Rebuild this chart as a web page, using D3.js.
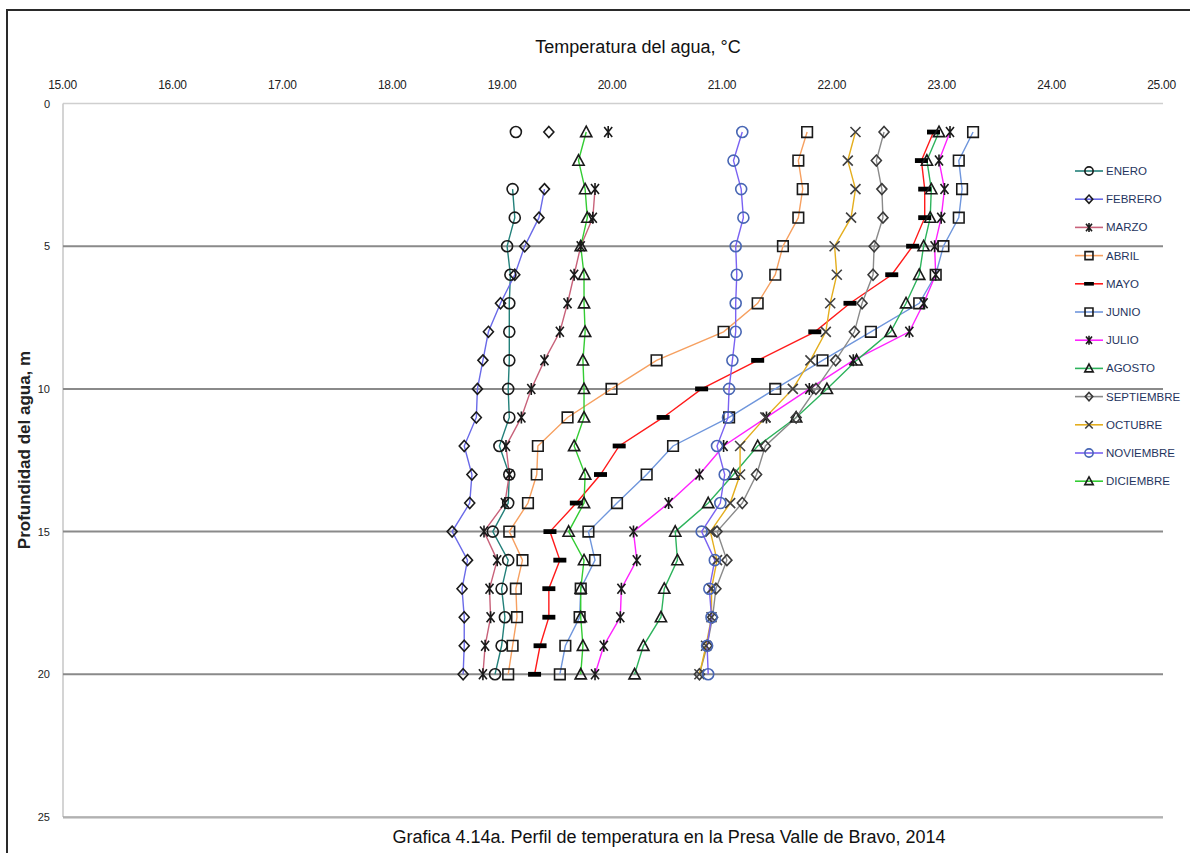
<!DOCTYPE html>
<html>
<head>
<meta charset="utf-8">
<script src="https://cdn.jsdelivr.net/npm/d3@7"></script>
<style>
  html, body { margin: 0; padding: 0; background: #fff; }
  svg { display: block; font-family: "Liberation Sans", Arial, sans-serif; }
</style>
</head>
<body>
<svg id="chart" width="1190" height="853"></svg>
<script>
// Profundidad de muestreo (m)
const depths = [1, 2, 3, 4, 5, 6, 7, 8, 9, 10, 11, 12, 13, 14, 15, 16, 17, 18, 19, 20];

// Temperatura del agua (°C) por mes, una lectura por profundidad
const enero      = [19.13, null, 19.10, 19.12, 19.05, 19.08, 19.07, 19.07, 19.07, 19.06, 19.07, 18.98, 19.07, 19.06, 18.92, 19.06, 19.00, 19.03, 19.00, 18.94];
const febrero    = [19.43, null, 19.39, 19.34, 19.21, 19.12, 18.99, 18.88, 18.83, 18.78, 18.77, 18.66, 18.73, 18.71, 18.55, 18.69, 18.64, 18.66, 18.66, 18.65];
const marzo      = [19.97, null, 19.85, 19.83, 19.72, 19.66, 19.60, 19.53, 19.39, 19.27, 19.18, 19.04, 19.07, 19.03, 18.84, 18.96, 18.89, 18.90, 18.85, 18.83];
const abril      = [21.78, 21.70, 21.74, 21.70, 21.56, 21.49, 21.33, 21.02, 20.41, 20.00, 19.60, 19.33, 19.32, 19.24, 19.07, 19.19, 19.13, 19.14, 19.10, 19.06];
const mayo       = [22.93, 22.82, 22.85, 22.85, 22.74, 22.55, 22.17, 21.85, 21.33, 20.82, 20.47, 20.07, 19.90, 19.68, 19.44, 19.53, 19.43, 19.43, 19.35, 19.30];
const junio      = [23.29, 23.16, 23.19, 23.16, 23.02, 22.95, 22.80, 22.36, 21.92, 21.49, 21.07, 20.56, 20.32, 20.05, 19.79, 19.85, 19.72, 19.71, 19.58, 19.53];
const julio      = [23.08, 22.98, 23.03, 23.00, 22.94, 22.95, 22.84, 22.71, 22.20, 21.80, 21.41, 21.02, 20.80, 20.52, 20.20, 20.23, 20.09, 20.08, 19.93, 19.85];
const agosto     = [22.98, 22.87, 22.91, 22.90, 22.84, 22.80, 22.68, 22.54, 22.23, 21.96, 21.68, 21.33, 21.11, 20.88, 20.58, 20.60, 20.48, 20.45, 20.29, 20.21];
const septiembre = [22.48, 22.41, 22.46, 22.47, 22.39, 22.38, 22.28, 22.21, 22.04, 21.86, 21.68, 21.40, 21.32, 21.19, 20.96, 21.05, 20.95, 20.92, 20.87, 20.80];
const octubre    = [22.22, 22.15, 22.22, 22.18, 22.03, 22.05, 21.99, 21.95, 21.81, 21.65, 21.40, 21.17, 21.17, 21.08, 20.90, 20.96, 20.91, 20.91, 20.86, 20.80];
const noviembre  = [21.19, 21.11, 21.18, 21.20, 21.13, 21.14, 21.13, 21.13, 21.10, 21.07, 21.06, 20.96, 21.03, 20.99, 20.82, 20.94, 20.89, 20.91, 20.87, 20.88];
const diciembre  = [19.77, 19.70, 19.76, 19.78, 19.72, 19.75, 19.75, 19.76, 19.74, 19.75, 19.75, 19.66, 19.76, 19.75, 19.61, 19.75, 19.72, 19.72, 19.74, 19.72];

const months = ["ENERO", "FEBRERO", "MARZO", "ABRIL", "MAYO", "JUNIO", "JULIO", "AGOSTO", "SEPTIEMBRE", "OCTUBRE", "NOVIEMBRE", "DICIEMBRE"];
const tempTicks = [15, 16, 17, 18, 19, 20, 21, 22, 23, 24, 25];
const depthTicks = [0, 5, 10, 15, 20, 25];

const titleTop = "Temperatura del agua, °C";
const titleBottom = "Grafica 4.14a. Perfil de temperatura en la Presa Valle  de Bravo, 2014";
const titleY = "Profundidad del agua, m";

// Estilo de cada serie: color de línea, tipo de marcador y color del marcador
const styles = [
  { line: "#23807a", marker: "circle",   mcolor: "#1a1a1a" },
  { line: "#6a6ae8", marker: "diamond",  mcolor: "#1a1a1a" },
  { line: "#c8627a", marker: "star",     mcolor: "#1a1a1a" },
  { line: "#f6a060", marker: "square",   mcolor: "#1a1a1a" },
  { line: "#ff1a1a", marker: "dash",     mcolor: "#000000" },
  { line: "#6f96dc", marker: "square",   mcolor: "#1a1a1a" },
  { line: "#ff22ff", marker: "star",     mcolor: "#1a1a1a" },
  { line: "#2db35c", marker: "triangle", mcolor: "#1a1a1a" },
  { line: "#8a8a8a", marker: "diamond",  mcolor: "#3a3a3a" },
  { line: "#e4ae1e", marker: "x",        mcolor: "#404040" },
  { line: "#7a62f2", marker: "circle",   mcolor: "#4866b4" },
  { line: "#33cc33", marker: "triangle", mcolor: "#1a1a1a" }
];

const seriesValues = [enero, febrero, marzo, abril, mayo, junio, julio, agosto, septiembre, octubre, noviembre, diciembre];
const series = months.map((name, i) => ({
  name,
  style: styles[i],
  points: depths.map((d, j) => ({ depth: d, temp: seriesValues[i][j] }))
}));

const svg = d3.select("#chart");

// Área de trazado
const plot = { left: 63, right: 1162, top: 103.5, bottom: 817 };
const x = d3.scaleLinear().domain([15, 25]).range([plot.left - 1, plot.right - 1]);
const y = d3.scaleLinear().domain([0, 25]).range([plot.top, plot.bottom]);

// Marco exterior
svg.append("rect")
  .attr("x", 7).attr("y", 10)
  .attr("width", 1200).attr("height", 900)
  .attr("fill", "none").attr("stroke", "#2a2a2a").attr("stroke-width", 2);

// Bordes del área de trazado
svg.append("line")
  .attr("x1", plot.left).attr("x2", plot.right + 1)
  .attr("y1", y(0)).attr("y2", y(0))
  .attr("stroke", "#cfcfcf").attr("stroke-width", 1.5);
svg.append("line")
  .attr("x1", plot.left).attr("x2", plot.left)
  .attr("y1", y(0)).attr("y2", y(25))
  .attr("stroke", "#c6c6c6").attr("stroke-width", 1.5);
svg.append("line")
  .attr("x1", plot.left).attr("x2", plot.right + 1)
  .attr("y1", y(25) + 1).attr("y2", y(25) + 1)
  .attr("stroke", "#d6d6d6").attr("stroke-width", 2);
svg.append("line")
  .attr("x1", plot.left).attr("x2", plot.right + 1)
  .attr("y1", y(25)).attr("y2", y(25))
  .attr("stroke", "#a4a4a4").attr("stroke-width", 1.5);

// Líneas de cuadrícula horizontales
svg.append("g")
  .selectAll("line")
  .data([5, 10, 15, 20])
  .join("line")
  .attr("x1", plot.left).attr("x2", plot.right + 1)
  .attr("y1", d => y(d)).attr("y2", d => y(d))
  .attr("stroke", "#8a8a8a").attr("stroke-width", 2);

// Eje de temperatura (arriba)
const xAxis = svg.append("g")
  .attr("transform", `translate(0, 92)`)
  .call(d3.axisTop(x).tickValues(tempTicks).tickSize(0).tickPadding(3).tickFormat(d3.format(".2f")));
xAxis.select(".domain").remove();
xAxis.selectAll("text")
  .attr("font-family", "'Liberation Sans Narrow', 'Liberation Sans', Arial, sans-serif")
  .attr("font-size", 12).attr("fill", "#222").attr("letter-spacing", -0.3);

// Eje de profundidad (izquierda)
const yAxis = svg.append("g")
  .attr("transform", `translate(${plot.left}, 0)`)
  .call(d3.axisLeft(y).tickValues(depthTicks).tickSize(0).tickPadding(13));
yAxis.select(".domain").remove();
yAxis.selectAll("text")
  .attr("font-family", "'Liberation Sans Narrow', 'Liberation Sans', Arial, sans-serif")
  .attr("font-size", 11).attr("fill", "#222");

// Títulos
svg.append("text")
  .attr("x", 638).attr("y", 53)
  .attr("text-anchor", "middle")
  .attr("font-size", 18).attr("fill", "#111")
  .text(titleTop);

svg.append("text")
  .attr("x", 669).attr("y", 843)
  .attr("text-anchor", "middle")
  .attr("font-size", 18).attr("fill", "#111")
  .text(titleBottom);

svg.append("text")
  .attr("transform", "translate(30, 450) rotate(-90)")
  .attr("text-anchor", "middle")
  .attr("font-size", 17).attr("font-weight", "bold").attr("fill", "#222")
  .text(titleY);

// Formas de marcador
function markerPath(type, s) {
  switch (type) {
    case "diamond":
      return `M0,${-5.5 * s}L${5 * s},0L0,${5.5 * s}L${-5 * s},0Z`;
    case "square":
      return `M${-5.3 * s},${-5.3 * s}h${10.6 * s}v${10.6 * s}h${-10.6 * s}Z`;
    case "triangle":
      return `M0,${-5.8 * s}L${5.6 * s},${4.6 * s}L${-5.6 * s},${4.6 * s}Z`;
    case "star":
      return `M${-4 * s},${-5 * s}L${4 * s},${5 * s}M${4 * s},${-5 * s}L${-4 * s},${5 * s}M0,${-6 * s}V${6 * s}`;
    case "x":
      return `M${-5 * s},${-5 * s}L${5 * s},${5 * s}M${5 * s},${-5 * s}L${-5 * s},${5 * s}`;
  }
  return null;
}

function drawMarker(g, style, s) {
  if (style.marker === "circle") {
    g.append("circle").attr("r", 5.5 * s)
      .attr("fill", "none").attr("stroke", style.mcolor).attr("stroke-width", 1.6);
  } else if (style.marker === "dash") {
    g.append("rect").attr("x", -6.5 * s).attr("y", -2.4 * s)
      .attr("width", 13 * s).attr("height", 4.8 * s).attr("fill", style.mcolor);
  } else {
    g.append("path").attr("d", markerPath(style.marker, s))
      .attr("fill", "none").attr("stroke", style.mcolor)
      .attr("stroke-width", 1.6).attr("stroke-linejoin", "miter");
  }
}

const line = d3.line()
  .defined(d => d.temp !== null)
  .x(d => x(d.temp))
  .y(d => y(d.depth));

// Líneas de cada mes
const linesG = svg.append("g");
series.forEach(s => {
  linesG.append("path")
    .datum(s.points)
    .attr("fill", "none")
    .attr("stroke", s.style.line)
    .attr("stroke-width", 1.4)
    .attr("d", line);
});

// Marcadores
const markersG = svg.append("g");
series.forEach(s => {
  markersG.selectAll(null)
    .data(s.points.filter(p => p.temp !== null))
    .join("g")
    .attr("transform", d => `translate(${x(d.temp)}, ${y(d.depth)})`)
    .each(function () { drawMarker(d3.select(this), s.style, 1); });
});

// Leyenda
const legend = svg.append("g").attr("transform", "translate(1075, 171)");
const rows = legend.selectAll("g")
  .data(series)
  .join("g")
  .attr("transform", (d, i) => `translate(0, ${i * 28.2})`);
rows.append("line")
  .attr("x1", 0).attr("x2", 28).attr("y1", 0).attr("y2", 0)
  .attr("stroke", d => d.style.line).attr("stroke-width", 1.6);
rows.each(function (d) {
  const g = d3.select(this).append("g").attr("transform", "translate(14, 0)");
  drawMarker(g, d.style, 0.75);
});
rows.append("text")
  .attr("x", 31).attr("y", 4)
  .attr("font-size", 11.5).attr("fill", "#1f3560")
  .text(d => d.name);
</script>
</body>
</html>
